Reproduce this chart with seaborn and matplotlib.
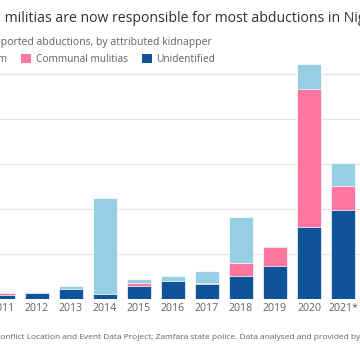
import matplotlib
matplotlib.use("Agg")
import matplotlib.pyplot as plt
import seaborn as sns
import pandas as pd
import numpy as np
from matplotlib.patches import Patch

years = ["2011", "2012", "2013", "2014", "2015", "2016", "2017", "2018", "2019", "2020", "2021*"]
unidentified = [8, 12, 21, 9, 28, 40, 33, 50, 73, 158, 197]
communal = [4, 0, 1, 1, 6, 0, 1, 30, 42, 307, 52]
boko_haram = [0, 2, 6, 213, 10, 11, 27, 101, 2, 57, 52]

series_names = ["Boko Haram", "Communal mulitias", "Unidentified"]
colors = {"Boko Haram": "#96cfe4", "Communal mulitias": "#ff77a1", "Unidentified": "#0f5499"}
gridvals = [0, 100, 200, 300, 400, 500]

sns.set_theme(style="white")
plt.rcParams['font.family'] = ['Open Sans', 'DejaVu Sans']

W, H = 360, 357
fig = plt.figure(figsize=(W / 100, H / 100), dpi=100)
fig.patch.set_facecolor("white")

px_per_cat = 34.0
x0_px = 3.0
xlo, xhi = -1.0, 11.0
base_px = 298.5
px_per_unit = 45.0 / 100
ylo, yhi = 0, 560
ax = fig.add_axes([(x0_px + xlo * px_per_cat) / W, (H - base_px) / H,
                   (xhi - xlo) * px_per_cat / W, (yhi - ylo) * px_per_unit / H])
ax.set_facecolor("none")

df = pd.DataFrame({"year": years, "Unidentified": unidentified,
                   "Communal mulitias": communal, "Boko Haram": boko_haram})
df["lvl1"] = df["Unidentified"]
df["lvl2"] = df["Unidentified"] + df["Communal mulitias"]
df["lvl3"] = df["lvl2"] + df["Boko Haram"]

for col, name in [("lvl3", "Boko Haram"), ("lvl2", "Communal mulitias"), ("lvl1", "Unidentified")]:
    sns.barplot(data=df, x="year", y=col, order=years, color=colors[name], width=0.735,
                edgecolor="white", linewidth=0.5, saturation=1, ax=ax, zorder=3)

for g in gridvals:
    ax.axhline(g, color="#ece2da", lw=0.9, zorder=1)

ax.set_xlim(xlo, xhi)
ax.set_ylim(ylo, yhi)
ax.set_xlabel("")
ax.set_ylabel("")
ax.set_yticks([])
for s in ax.spines.values():
    s.set_visible(False)
ax.tick_params(axis="x", length=0, pad=3, labelsize=7.6, labelcolor="#66605c")

renderer = fig.canvas.get_renderer()

def place(full, visible, x_px, y_px, **kw):
    t = fig.text(0, 1 - y_px / H, full, ha="left", va="baseline", **kw)
    t_pre = fig.text(0, 0, full[:full.index(visible)] + visible[0], **kw)
    t_ch = fig.text(0, 0, visible[0], **kw)
    w_pre = t_pre.get_window_extent(renderer).width - t_ch.get_window_extent(renderer).width
    t_pre.remove(); t_ch.remove()
    t.set_x((x_px - w_pre) / W)
    return t

place("Communal militias are now responsible for most abductions in Nigeria", "militias",
      5, 22, fontsize=10.1, color="#33302e")
place("Number of reported abductions, by attributed kidnapper", "ported",
      1, 45, fontsize=7.45, color="#66605c")
place("Source: Armed Conflict Location and Event Data Project; Zamfara state police. Data analysed and provided by Jos",
      "onflict", 0.5, 339, fontsize=6.0, color="#66605c")

handles = [Patch(facecolor=colors[n], edgecolor="none") for n in series_names]
leg = fig.legend(handles, series_names, ncol=3, loc="center left",
                 bbox_to_anchor=(0, 1 - 59.5 / H), frameon=False,
                 fontsize=7.3, handlelength=1.0, handleheight=1.0,
                 handletextpad=0.45, columnspacing=1.4, borderpad=0, borderaxespad=0)
for t in leg.get_texts():
    t.set_color("#66605c")
fig.canvas.draw()
cur = leg.get_texts()[1].get_window_extent(renderer).x0
leg.set_bbox_to_anchor(((35.7 - cur) / W, 1 - 59.5 / H), transform=fig.transFigure)

fig.savefig("out.png", dpi=100, facecolor="white")
